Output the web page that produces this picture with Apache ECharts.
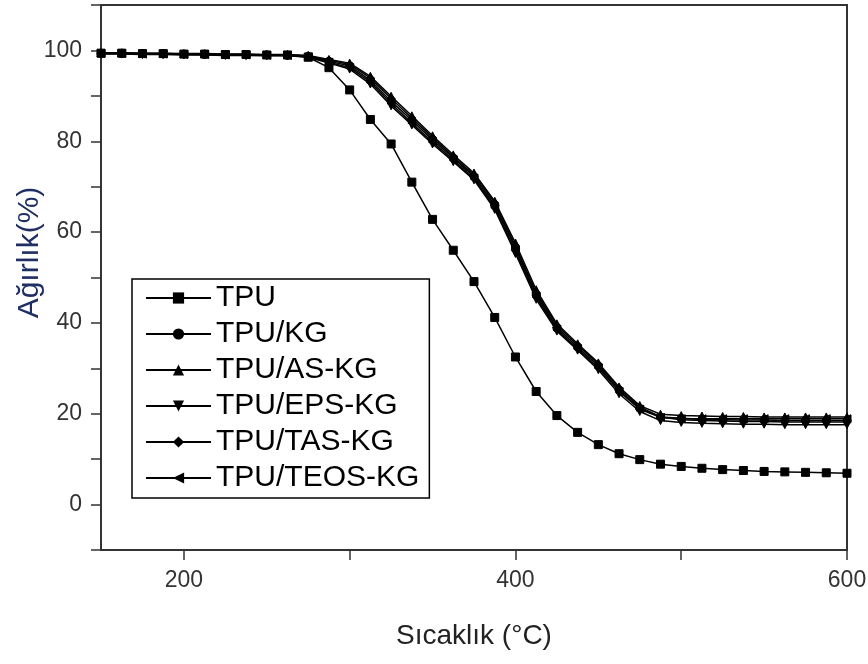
<!DOCTYPE html>
<html>
<head>
<meta charset="utf-8">
<script src="https://cdn.jsdelivr.net/npm/echarts@6.0.0/dist/echarts.min.js"></script>
<style>
  html, body { margin: 0; padding: 0; background: #fff; }
  #chart { width: 868px; height: 664px; }
</style>
</head>
<body>
<div id="chart"></div>
<script>
// sıcaklık (°C)
var temps = [150, 162.5, 175, 187.5, 200, 212.5, 225, 237.5, 250, 262.5, 275, 287.5, 300, 312.5, 325, 337.5, 350, 362.5, 375, 387.5, 400, 412.5, 425, 437.5, 450, 462.5, 475, 487.5, 500, 512.5, 525, 537.5, 550, 562.5, 575, 587.5, 600];

// ağırlık (%)
var tpu = [99.4, 99.4, 99.3, 99.3, 99.2, 99.2, 99.1, 99.1, 99.0, 99.0, 98.5, 96.2, 91.3, 84.8, 79.4, 71.0, 62.8, 56.0, 49.1, 41.2, 32.5, 24.9, 19.6, 15.9, 13.2, 11.2, 9.9, 8.9, 8.4, 8.0, 7.7, 7.5, 7.3, 7.2, 7.1, 7.0, 6.9];
var tpuKG = [99.3, 99.3, 99.3, 99.2, 99.2, 99.1, 99.1, 99.0, 99.0, 98.9, 98.7, 97.6, 96.6, 93.4, 88.8, 84.6, 80.3, 76.3, 72.2, 65.9, 56.5, 46.2, 38.9, 34.7, 30.5, 25.2, 21.2, 19.3, 19.0, 18.8, 18.7, 18.6, 18.6, 18.5, 18.5, 18.5, 18.5];
var tpuAS = [99.5, 99.5, 99.4, 99.4, 99.3, 99.3, 99.2, 99.2, 99.1, 99.1, 98.9, 98.0, 97.2, 94.3, 89.9, 85.6, 81.2, 77.0, 73.0, 66.8, 57.6, 47.3, 39.8, 35.4, 31.2, 25.9, 21.8, 19.9, 19.6, 19.5, 19.4, 19.4, 19.3, 19.3, 19.3, 19.3, 19.3];
var tpuEPS = [99.2, 99.2, 99.1, 99.1, 99.0, 99.0, 98.9, 98.9, 98.8, 98.8, 98.5, 97.2, 95.9, 92.6, 87.8, 83.6, 79.4, 75.5, 71.5, 65.0, 55.3, 45.2, 38.2, 34.0, 29.7, 24.4, 20.5, 18.5, 18.1, 17.9, 17.8, 17.7, 17.7, 17.6, 17.6, 17.6, 17.6];
var tpuTAS = [99.4, 99.4, 99.3, 99.3, 99.2, 99.2, 99.1, 99.1, 99.0, 99.0, 98.8, 97.9, 96.9, 93.9, 89.4, 85.1, 80.8, 76.6, 72.6, 66.4, 57.0, 46.7, 39.4, 35.1, 30.9, 25.6, 21.5, 19.3, 18.7, 18.5, 18.4, 18.3, 18.3, 18.2, 18.2, 18.2, 18.2];
var tpuTEOS = [99.3, 99.3, 99.2, 99.2, 99.1, 99.1, 99.0, 99.0, 98.9, 98.9, 98.6, 97.4, 96.2, 93.0, 88.3, 84.0, 79.8, 75.9, 71.8, 65.4, 55.9, 45.7, 38.5, 34.3, 30.1, 24.9, 21.0, 19.2, 18.9, 18.9, 18.9, 18.9, 18.9, 18.9, 18.9, 18.9, 18.9];

var names = ["TPU", "TPU/KG", "TPU/AS-KG", "TPU/EPS-KG", "TPU/TAS-KG", "TPU/TEOS-KG"];
var values = [tpu, tpuKG, tpuAS, tpuEPS, tpuTAS, tpuTEOS];
var symbols = [
  "rect",
  "circle",
  "triangle",
  "path://M0,0 L10,0 L5,10 Z", // aşağı üçgen
  "diamond",
  "path://M0,5 L10,0 L10,10 Z"  // sola ok
];

var xTicks = [200, 300, 400, 500, 600];
var xLabels = [200, 400, 600];
var yTicks = [-10, 0, 10, 20, 30, 40, 50, 60, 70, 80, 90, 100, 110];
var yLabels = [0, 20, 40, 60, 80, 100];

function pairs(ys) {
  return temps.map(function (t, i) { return [t, ys[i]]; });
}

var font = "Liberation Sans, Arial, sans-serif";
var myChart = echarts.init(document.getElementById("chart"));
var options = {
  animation: false,
  backgroundColor: "#fff",
  grid: {
    left: 101,
    right: 21,
    top: 5,
    bottom: 114,
    containLabel: false,
    outerBoundsMode: "none",
    show: true,
    borderColor: "#333",
    borderWidth: 2,
    backgroundColor: "transparent"
  },
  legend: {
    left: 132,
    top: 279,
    orient: "vertical",
    padding: [4, 10, 5, 13],
    itemGap: 6,
    itemWidth: 65,
    itemHeight: 14,
    backgroundColor: "#fff",
    borderColor: "#000",
    borderWidth: 1.5,
    textStyle: { fontSize: 30, color: "#000", fontFamily: font },
    data: names
  },
  xAxis: {
    type: "value",
    min: 150,
    max: 600,
    name: "Sıcaklık (°C)",
    nameLocation: "middle",
    nameGap: 72,
    nameMoveOverlap: false,
    nameTextStyle: { fontSize: 28, color: "#222", fontFamily: font },
    axisLine: { onZero: false, lineStyle: { color: "#333", width: 2 } },
    axisTick: { inside: false, length: 10, customValues: xTicks, lineStyle: { color: "#333", width: 1.5 } },
    axisLabel: { margin: 19, fontSize: 23, color: "#333", customValues: xLabels, fontFamily: font },
    splitLine: { show: false }
  },
  yAxis: {
    type: "value",
    min: -10,
    max: 110,
    name: "Ağırlık(%)",
    nameLocation: "middle",
    nameGap: 56,
    nameMoveOverlap: false,
    nameTextStyle: { fontSize: 30, color: "#1f2f63", padding: [0, 0, 0, 50], fontFamily: font },
    axisLine: { onZero: false, lineStyle: { color: "#333", width: 2 } },
    axisTick: { inside: false, length: 10, customValues: yTicks, lineStyle: { color: "#333", width: 1.5 } },
    axisLabel: { margin: 19, fontSize: 23, color: "#333", customValues: yLabels, fontFamily: font },
    splitLine: { show: false }
  },
  series: names.map(function (n, i) {
    return {
      name: n,
      type: "line",
      data: pairs(values[i]),
      symbol: symbols[i],
      symbolSize: 8,
      showAllSymbol: true,
      lineStyle: { color: "#000", width: 1.5 },
      itemStyle: { color: "#000", borderColor: "#000" }
    };
  })
};
myChart.setOption(options);
</script>
</body>
</html>
